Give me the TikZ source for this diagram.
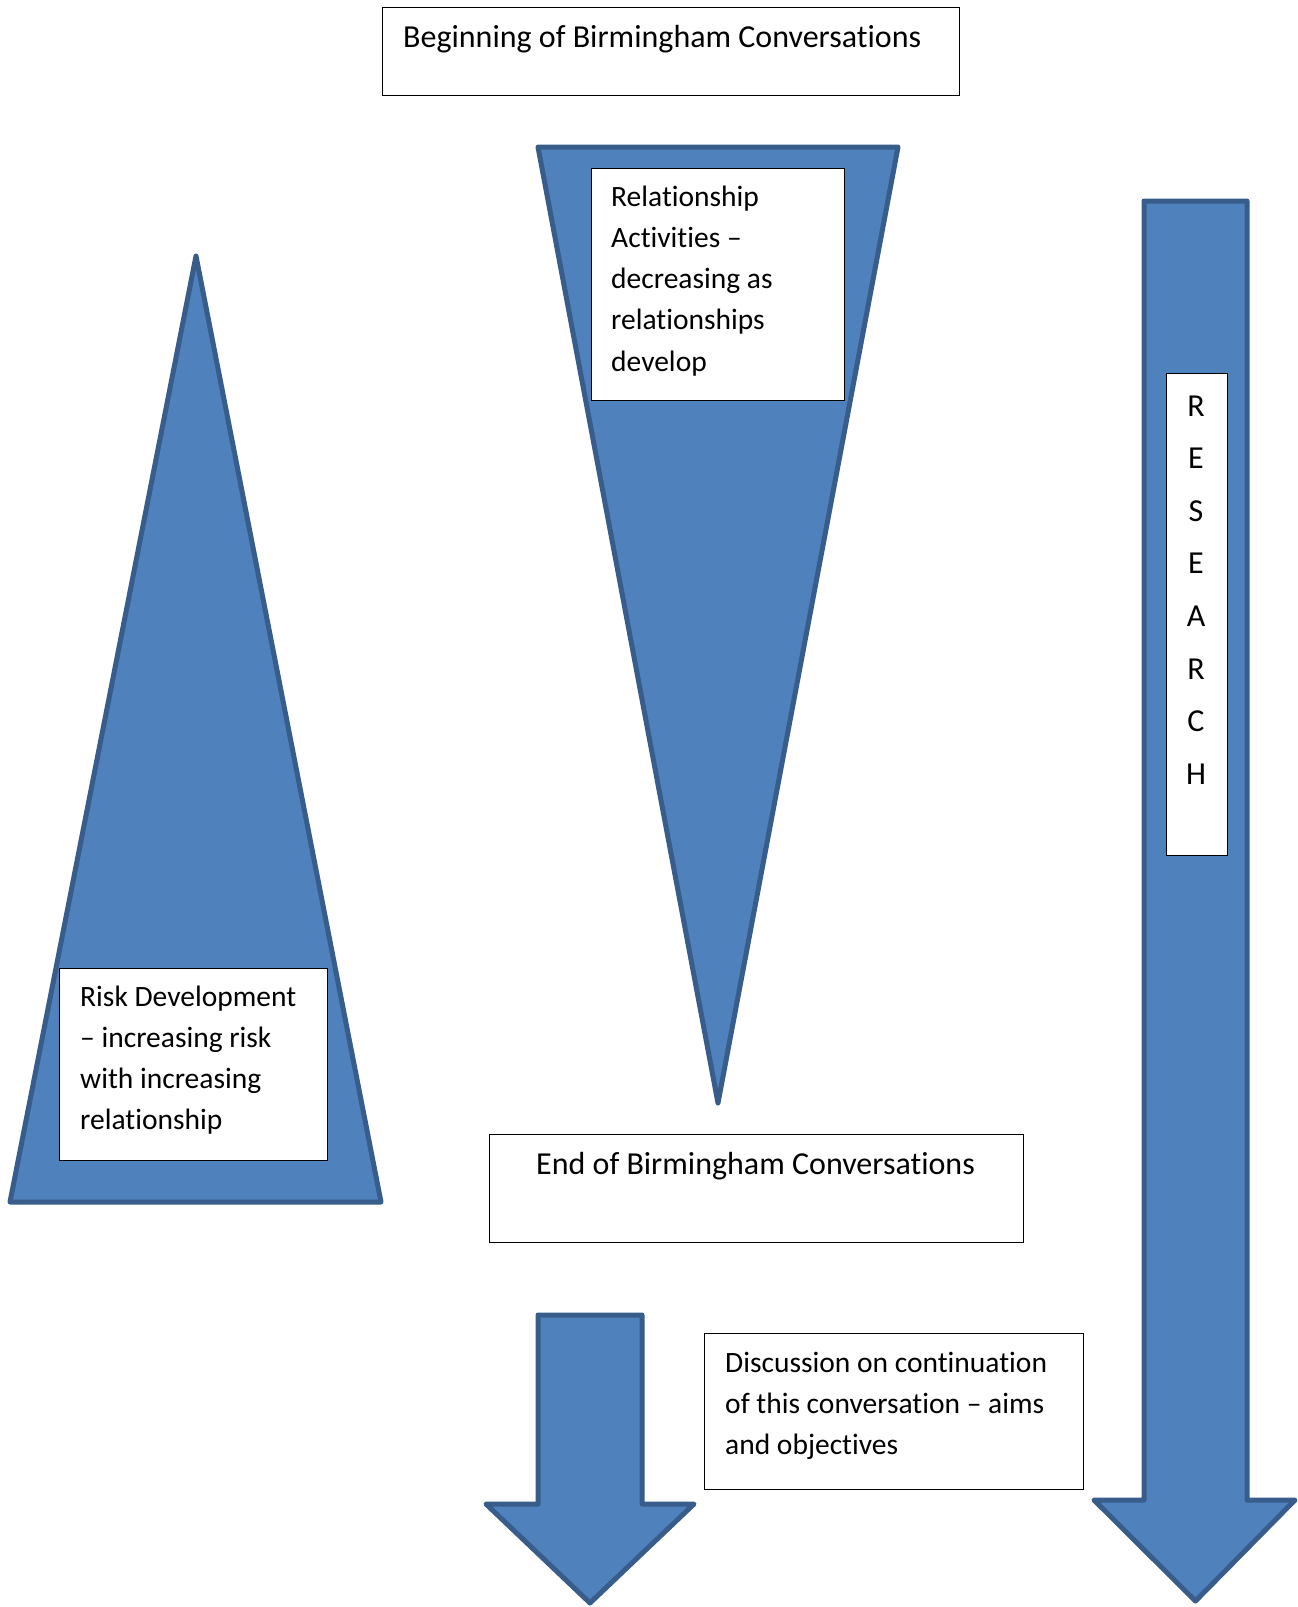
\documentclass[tikz,border=0pt]{standalone}
\usepackage{fontspec}
\setmainfont{Carlito}[Ligatures=NoCommon]
\tikzset{
  shapefill/.style={fill={rgb,255:red,79;green,129;blue,189}, draw={rgb,255:red,56;green,93;blue,138}, line width=5pt, line join=round},
  whitebox/.style={draw=black, fill=white, line width=1.2pt, inner sep=0pt, anchor=north west},
  boxtext/.style={anchor=base west, align=left, inner sep=0pt, font=\fontsize{32}{41.3}\selectfont},
  smalltext/.style={boxtext, font=\fontsize{29.5}{41.3}\selectfont},
}
\begin{document}
\begin{tikzpicture}[x=1pt,y=-1pt]
\useasboundingbox (0,0) rectangle (1298,1607);
% shapes
\draw[shapefill] (196,256) -- (381,1202) -- (10,1202) -- cycle;
\draw[shapefill] (538,147) -- (898,147) -- (718,1103) -- cycle;
\draw[shapefill] (1144,201) -- (1247,201) -- (1247,1500) -- (1295,1500) -- (1195.5,1601) -- (1094,1500) -- (1144,1500) -- cycle;
\draw[shapefill] (538,1315) -- (642,1315) -- (642,1504) -- (694,1504) -- (590,1603) -- (486,1504) -- (538,1504) -- cycle;
% boxes
\node[whitebox, minimum width=577pt, minimum height=88pt] (begin) at (382,7) {};
\node[boxtext] (begintxt) at (403,47) {Beginning of Birmingham Conversations};
\node[whitebox, minimum width=253pt, minimum height=232pt] (rel) at (591,168) {};
\node[smalltext] (reltxt) at (611,371.2) {Relationship\\Activities --\\decreasing as\\relationships\\develop};
\node[whitebox, minimum width=268pt, minimum height=192pt] (risk) at (59,968) {};
\node[smalltext] (risktxt) at (80,1129.9) {Risk Development\\-- increasing risk\\with increasing\\relationship};
\node[whitebox, minimum width=534pt, minimum height=108pt] (endb) at (489,1134) {};
\node[boxtext] (endtxt) at (536,1174) {End of Birmingham Conversations};
\node[whitebox, minimum width=379pt, minimum height=156pt] (disc) at (704,1333) {};
\node[smalltext] (disctxt) at (725,1454.6) {Discussion on continuation\\of this conversation -- aims\\and objectives};
\node[whitebox, minimum width=61pt, minimum height=482pt] (res) at (1166,373) {};
\node[anchor=base, align=center, inner sep=0pt, font=\fontsize{32}{52.6}\selectfont] (restxt) at (1196,784.2) {R\\E\\S\\E\\A\\R\\C\\H};
\end{tikzpicture}
\end{document}
